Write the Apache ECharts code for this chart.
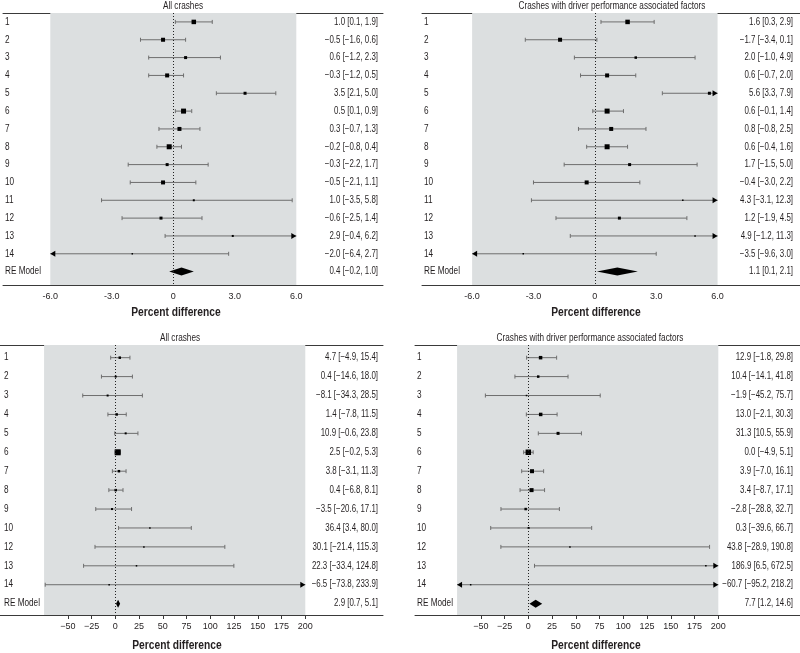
<!DOCTYPE html>
<html>
<head>
<meta charset="utf-8">
<script src="https://cdn.jsdelivr.net/npm/echarts@6/dist/echarts.min.js"></script>
<style>
  html, body { margin: 0; padding: 0; background: #fff; }
  #chart { width: 800px; height: 653px; }
</style>
</head>
<body>
<div id="chart"></div>
<script>
// row labels
const rowsTop = ['1', '2', '3', '4', '5', '6', '7', '8', '9', '10', '11', '12', '13', '14']
const rowsBottom = ['1', '2', '3', '4', '5', '6', '7', '8', '9', '10', '12', '13', '14']

// top left - all crashes
const estTL = [1.0, -0.5, 0.6, -0.3, 3.5, 0.5, 0.3, -0.2, -0.3, -0.5, 1.0, -0.6, 2.9, -2.0]
const loTL = [0.1, -1.6, -1.2, -1.2, 2.1, 0.1, -0.7, -0.8, -2.2, -2.1, -3.5, -2.5, -0.4, -6.4]
const hiTL = [1.9, 0.6, 2.3, 0.5, 5.0, 0.9, 1.3, 0.4, 1.7, 1.1, 5.8, 1.4, 6.2, 2.7]
const wTL = [9, 8, 6, 8, 6, 10, 8, 10, 6, 8, 4, 6, 4, 3]
const reTL = [0.4, -0.2, 1.0]

// top right - driver performance factors
const estTR = [1.6, -1.7, 2.0, 0.6, 5.6, 0.6, 0.8, 0.6, 1.7, -0.4, 4.3, 1.2, 4.9, -3.5]
const loTR = [0.3, -3.4, -1.0, -0.7, 3.3, -0.1, -0.8, -0.4, -1.5, -3.0, -3.1, -1.9, -1.2, -9.6]
const hiTR = [2.9, 0.1, 4.9, 2.0, 7.9, 1.4, 2.5, 1.6, 5.0, 2.2, 12.3, 4.5, 11.3, 3.0]
const wTR = [9, 8, 5, 8, 6, 10, 8, 10, 6, 8, 3, 6, 3, 3]
const reTR = [1.1, 0.1, 2.1]

// bottom left - all crashes
const estBL = [4.7, 0.4, -8.1, 1.4, 10.9, 2.5, 3.8, 0.4, -3.5, 36.4, 30.1, 22.3, -6.5]
const loBL = [-4.9, -14.6, -34.3, -7.8, -0.6, -0.2, -3.1, -6.8, -20.6, 3.4, -21.4, -33.4, -73.8]
const hiBL = [15.4, 18.0, 28.5, 11.5, 23.8, 5.3, 11.3, 8.1, 17.1, 80.0, 115.3, 124.8, 233.9]
const wBL = [5, 4, 4, 5, 4, 12, 5, 5, 4, 3, 3, 3, 3]
const reBL = [2.9, 0.7, 5.1]

// bottom right - driver performance factors
const estBR = [12.9, 10.4, -1.9, 13.0, 31.3, 0.0, 3.9, 3.4, -2.8, 0.3, 43.8, 186.9, -60.7]
const loBR = [-1.8, -14.1, -45.2, -2.1, 10.5, -4.9, -7.0, -8.7, -28.8, -39.6, -28.9, 6.5, -95.2]
const hiBR = [29.8, 41.8, 75.7, 30.3, 55.9, 5.1, 16.1, 17.1, 32.7, 66.7, 190.8, 672.5, 218.2]
const wBR = [7, 5, 3, 7, 6, 11, 8, 8, 5, 4, 3, 3, 3]
const reBR = [7.7, 1.2, 14.6]

const ticksTop = [-6, -3, 0, 3, 6]
const ticksBottom = [-50, -25, 0, 25, 50, 75, 100, 125, 150, 175, 200]

const titleAll = 'All crashes'
const titleDriver = 'Crashes with driver performance associated factors'
const xName = 'Percent difference'

const FONT = '"Liberation Sans", Arial, sans-serif'
const NARROW = 0.82 // fake a condensed face
const TXT = '#231f20'
const GRAY = '#dcdfe0'
const WHISK = '#6e6e6e'

const num = (v) => v.toFixed(1).replace('-', '\u2212')
const ciText = (e, l, h) => `${num(e)} [${num(l)}, ${num(h)}]`

const panels = [
  {
    names: rowsTop, est: estTL, lo: loTL, hi: hiTL, w: wTL, re: reTL,
    grid: { left: 3, top: 13, width: 380, height: 272 },
    xMin: -8.307, xMax: 10.229, yMin: 0.5, yMax: 15.75, clip: [-6, 6],
    ticks: ticksTop, tickFmt: (v) => (v === 0 ? '0' : v.toFixed(1)), showTicks: false,
    lm: 2, rm: 5, title: titleAll, tx: 183, ty: 6, nx: 176, ny: 313,
  },
  {
    names: rowsTop, est: estTR, lo: loTR, hi: hiTR, w: wTR, re: reTR,
    grid: { left: 422, top: 13, width: 378, height: 272 },
    xMin: -8.45, xMax: 10.03, yMin: 0.5, yMax: 15.75, clip: [-6, 6],
    ticks: ticksTop, tickFmt: (v) => (v === 0 ? '0' : v.toFixed(1)), showTicks: false,
    lm: 2, rm: 7, title: titleDriver, tx: 612, ty: 6, nx: 596, ny: 313,
  },
  {
    names: rowsBottom, est: estBL, lo: loBL, hi: hiBL, w: wBL, re: reBL,
    grid: { left: 0, top: 345, width: 383, height: 270 },
    xMin: -121.4, xMax: 281.8, yMin: 0.33, yMax: 14.6, clip: [-75, 200],
    ticks: ticksBottom, tickFmt: (v) => String(v).replace('-', '\u2212'), showTicks: true,
    lm: 4, rm: 5, title: titleAll, tx: 180, ty: 338, nx: 177, ny: 646,
  },
  {
    names: rowsBottom, est: estBR, lo: loBR, hi: hiBR, w: wBR, re: reBR,
    grid: { left: 415, top: 345, width: 385, height: 270 },
    xMin: -119.3, xMax: 286, yMin: 0.33, yMax: 14.6, clip: [-75, 200],
    ticks: ticksBottom, tickFmt: (v) => String(v).replace('-', '\u2212'), showTicks: true,
    lm: 2, rm: 7, title: titleDriver, tx: 590, ty: 338, nx: 596, ny: 646,
  },
]

function label(x, y, text, align, sx) {
  return {
    type: 'text', x: x, y: y, scaleX: sx,
    style: { text: text, align: align, verticalAlign: 'middle', fill: TXT, font: `10px ${FONT}` },
  }
}

// whiskers, squares, arrows, summary diamond and the row texts
function forestItem(p) {
  const clip = p.clip
  return function (params, api) {
    const cs = params.coordSys
    const y = api.value(0)
    const est = api.value(1)
    const lo = api.value(2)
    const hi = api.value(3)
    const half = api.value(4) / 4
    const isRE = api.value(5)
    const py = api.coord([est, y])[1]
    const xe = api.coord([est, y])[0]
    const xl = api.coord([Math.max(lo, clip[0]), y])[0]
    const xh = api.coord([Math.min(hi, clip[1]), y])[0]
    const name = isRE ? 'RE Model' : p.names[params.dataIndex]
    const kids = [
      label(cs.x + p.lm, py, name, 'left', NARROW),
      label(cs.x + cs.width - p.rm, py, ciText(est, lo, hi), 'right', 0.79),
    ]
    if (isRE) {
      kids.push({
        type: 'polygon',
        shape: { points: [[xl, py], [xe, py - 4], [xh, py], [xe, py + 4]] },
        style: { fill: '#000' },
      })
      return { type: 'group', children: kids }
    }
    kids.push({
      type: 'line',
      shape: { x1: xl, y1: py, x2: xh, y2: py },
      style: { stroke: WHISK, lineWidth: 1 },
    })
    if (lo >= clip[0]) {
      kids.push({ type: 'line', shape: { x1: xl, y1: py - 2, x2: xl, y2: py + 2 }, style: { stroke: WHISK, lineWidth: 1 } })
    } else {
      kids.push({ type: 'polygon', shape: { points: [[xl, py], [xl + 5, py - 3], [xl + 5, py + 3]] }, style: { fill: '#000' } })
    }
    if (hi <= clip[1]) {
      kids.push({ type: 'line', shape: { x1: xh, y1: py - 2, x2: xh, y2: py + 2 }, style: { stroke: WHISK, lineWidth: 1 } })
    } else {
      kids.push({ type: 'polygon', shape: { points: [[xh, py], [xh - 5, py - 3], [xh - 5, py + 3]] }, style: { fill: '#000' } })
    }
    kids.push({
      type: 'rect',
      shape: { x: xe - half, y: py - half, width: half * 2, height: half * 2 },
      style: { fill: '#000' },
    })
    return { type: 'group', children: kids }
  }
}

const grids = []
const xAxes = []
const yAxes = []
const series = []
const graphics = []

panels.forEach((p, i) => {
  grids.push(Object.assign({ containLabel: false }, p.grid))
  const n = p.names.length

  xAxes.push({
    type: 'value', gridIndex: i, position: 'bottom', min: p.xMin, max: p.xMax,
    axisLine: { show: true, lineStyle: { color: '#3a3a3a', width: 1 } },
    axisTick: { show: p.showTicks, customValues: p.ticks, length: 4, lineStyle: { color: '#3a3a3a' } },
    axisLabel: {
      customValues: p.ticks, formatter: p.tickFmt, margin: 7,
      color: TXT, fontFamily: FONT, fontSize: 9,
    },
    splitLine: { show: false },
  })
  xAxes.push({
    type: 'value', gridIndex: i, position: 'top', min: p.xMin, max: p.xMax,
    axisLine: { show: true, lineStyle: { color: '#3a3a3a', width: 1 } },
    axisTick: { show: false }, axisLabel: { show: false }, splitLine: { show: false },
  })
  yAxes.push({
    type: 'value', gridIndex: i, inverse: true, min: p.yMin, max: p.yMax,
    axisLine: { show: false }, axisTick: { show: false }, splitLine: { show: false },
    axisLabel: { show: false },
  })

  const data = p.est.map((e, k) => [k + 1, e, p.lo[k], p.hi[k], p.w[k], 0])
  data.push([n + 1, p.re[0], p.re[1], p.re[2], 0, 1])

  series.push({
    type: 'custom',
    xAxisIndex: i * 2,
    yAxisIndex: i,
    clip: false,
    silent: true,
    renderItem: forestItem(p),
    encode: { x: [1, 2, 3], y: 0 },
    data: data,
    z: 3,
    markArea: {
      silent: true,
      itemStyle: { color: GRAY },
      data: [[{ xAxis: p.clip[0] }, { xAxis: p.clip[1] }]],
      z: 1,
    },
    markLine: {
      silent: true,
      symbol: 'none',
      label: { show: false },
      lineStyle: { color: '#222', type: [1, 2], width: 1 },
      data: [{ xAxis: 0 }],
    },
  })

  graphics.push({
    type: 'text', x: p.tx, y: p.ty, scaleX: NARROW,
    style: { text: p.title, align: 'center', verticalAlign: 'middle', fill: TXT, font: `10px ${FONT}` },
  })
  graphics.push({
    type: 'text', x: p.nx, y: p.ny, scaleX: NARROW,
    style: { text: xName, align: 'center', verticalAlign: 'middle', fill: TXT, font: `bold 12.5px ${FONT}` },
  })
})

const chart = echarts.init(document.getElementById('chart'))
chart.setOption({
  animation: false,
  grid: grids,
  xAxis: xAxes,
  yAxis: yAxes,
  series: series,
  graphic: graphics,
})
</script>
</body>
</html>
